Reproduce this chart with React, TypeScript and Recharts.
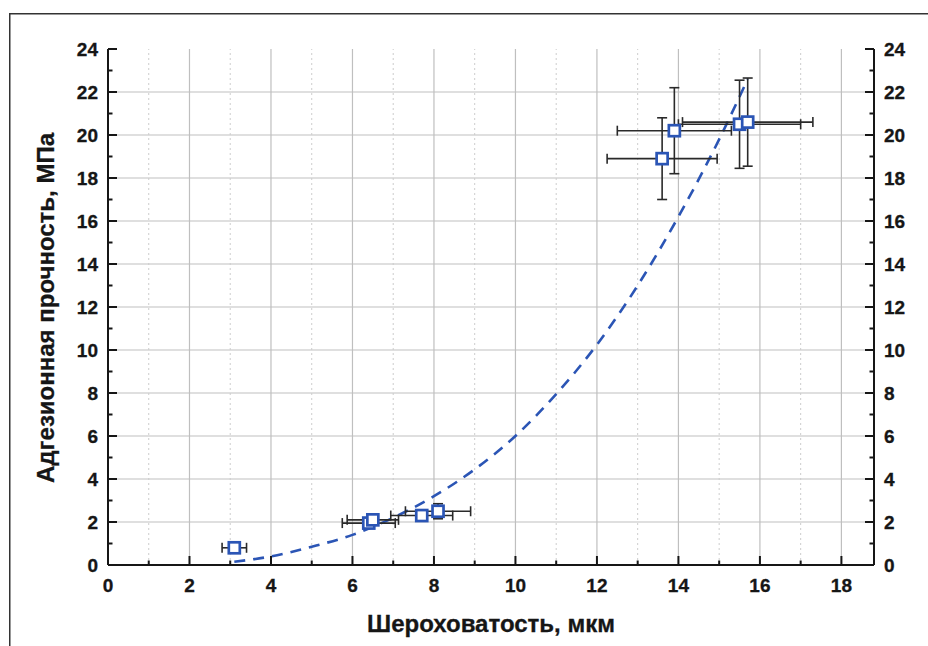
import * as React from "react";
import {
  CartesianGrid,
  ComposedChart,
  ErrorBar,
  Label,
  Line,
  ReferenceLine,
  Scatter,
  XAxis,
  YAxis,
} from "recharts";

// измерения: шероховатость (мкм) и адгезионная прочность (МПа)
const roughness = [3.1, 6.4, 6.5, 7.7, 8.1, 13.6, 13.9, 15.5, 15.7];
const roughnessErr = [0.3, 0.65, 0.63, 0.76, 0.8, 1.35, 1.4, 1.5, 1.6];
const strength = [0.8, 1.95, 2.1, 2.3, 2.5, 18.9, 20.2, 20.5, 20.6];
const strengthErr = [0.15, 0.15, 0.2, 0.2, 0.35, 1.9, 2.0, 2.05, 2.05];

// аппроксимирующая кривая
const fitX = [3.1, 4, 5, 6, 7, 8, 9, 10, 11, 12, 13, 14, 15, 15.7];
const fitY = [0.15, 0.4, 0.85, 1.4, 2.2, 3.2, 4.45, 6.0, 7.95, 10.25, 13.0, 16.2, 19.8, 22.6];

const xTicks = [0, 1, 2, 3, 4, 5, 6, 7, 8, 9, 10, 11, 12, 13, 14, 15, 16, 17, 18];
const yTicks = [0, 1, 2, 3, 4, 5, 6, 7, 8, 9, 10, 11, 12, 13, 14, 15, 16, 17, 18, 19, 20, 21, 22, 23, 24];
const xGridMajor = [2, 4, 6, 8, 10, 12, 14, 16, 18];
const xGridMinor = [1, 3, 5, 7, 9, 11, 13, 15, 17];
const yGrid = [2, 4, 6, 8, 10, 12, 14, 16, 18, 20, 22];

const points = roughness.map((x, i) => ({
  x,
  y: strength[i],
  ex: roughnessErr[i],
  ey: strengthErr[i],
}));
const fit = fitX.map((x, i) => ({ x, y: fitY[i] }));

const BLUE = "#2b55b5";
const INK = "#161616";
const FONT = "'Liberation Sans', Arial, sans-serif";
const TICK_FONT = {
  fontFamily: FONT,
  fontWeight: 700,
  fontSize: 19,
  fill: INK,
  stroke: INK,
  strokeWidth: 0.3,
};
const TITLE_FONT = {
  fontFamily: FONT,
  fontWeight: 700,
  fontSize: 24,
  fill: INK,
  stroke: INK,
  strokeWidth: 0.3,
};

const LeftTick = ({ x, y, payload }: any) => {
  const v = payload.value as number;
  const major = v % 2 === 0;
  const ax = x + 10;
  return (
    <g>
      <line x1={ax} x2={ax + (major ? 9 : 4.5)} y1={y} y2={y} stroke={INK} strokeWidth={2} />
      {major && (
        <text x={x} y={y} dy="0.36em" textAnchor="end" {...TICK_FONT}>
          {v}
        </text>
      )}
    </g>
  );
};

const RightTick = ({ x, y, payload }: any) => {
  const v = payload.value as number;
  const major = v % 2 === 0;
  const ax = x - 10;
  return (
    <g>
      <line x1={ax} x2={ax - (major ? 9 : 4.5)} y1={y} y2={y} stroke={INK} strokeWidth={2} />
      {major && (
        <text x={x} y={y} dy="0.36em" textAnchor="start" {...TICK_FONT}>
          {v}
        </text>
      )}
    </g>
  );
};

const BottomTick = ({ x, y, payload }: any) => {
  const v = payload.value as number;
  const major = v % 2 === 0;
  const ay = y - 14;
  return (
    <g>
      <line x1={x} x2={x} y1={ay} y2={ay - (major ? 9 : 4.5)} stroke={INK} strokeWidth={2} />
      {major && (
        <text x={x} y={y} dy="0.7em" textAnchor="middle" {...TICK_FONT}>
          {v}
        </text>
      )}
    </g>
  );
};

const Square = ({ cx, cy }: any) => (
  <rect x={cx - 5.5} y={cy - 5.5} width={11} height={11} fill="#fff" stroke={BLUE} strokeWidth={2.7} />
);

const XTitle = ({ viewBox }: any) => (
  <text x={viewBox.x + viewBox.width / 2} y={viewBox.y + 67} textAnchor="middle" {...TITLE_FONT}>
    Шероховатость, мкм
  </text>
);

const YTitle = ({ viewBox }: any) => {
  const tx = viewBox.x - 14.5;
  const ty = viewBox.y + viewBox.height / 2 + 1;
  return (
    <text x={tx} y={ty} transform={`rotate(-90, ${tx}, ${ty})`} textAnchor="middle" {...TITLE_FONT}>
      Адгезионная прочность, МПа
    </text>
  );
};

export default function App() {
  return (
    <div
      style={{
        position: "fixed",
        left: 0,
        top: 0,
        width: 928,
        height: 646,
        background: "#fff",
        overflow: "hidden",
      }}
    >
      <style>{"html, body { margin: 0; overflow: hidden; }"}</style>
      <svg width={928} height={646} style={{ position: "absolute", left: 0, top: 0 }}>
        <polyline points="9.75,646 9.75,13.75 928,13.75" fill="none" stroke="#333" strokeWidth={1.5} />
      </svg>
      <div style={{ position: "absolute", left: 0, top: 0 }}>
        <ComposedChart
          width={928}
          height={646}
          margin={{ top: 49, right: 14, bottom: 41, left: 68 }}
        >
          <CartesianGrid
            xAxisId="b"
            yAxisId="l"
            stroke="#bfbfbf"
            strokeWidth={1.2}
            horizontalValues={yGrid}
            verticalValues={xGridMajor}
          />
          {xGridMinor.map((v) => (
            <ReferenceLine
              key={v}
              x={v}
              xAxisId="b"
              yAxisId="l"
              stroke="#cdcdcd"
              strokeWidth={1}
              strokeDasharray="2 3"
            />
          ))}
          <XAxis
            xAxisId="b"
            type="number"
            dataKey="x"
            domain={[0, 18.8]}
            allowDataOverflow
            ticks={xTicks}
            interval={0}
            height={40}
            tickSize={0}
            tickMargin={14}
            axisLine={{ stroke: INK, strokeWidth: 2 }}
            tickLine={false}
            tick={<BottomTick />}
          >
            <Label content={<XTitle />} />
          </XAxis>
          <YAxis
            yAxisId="l"
            type="number"
            domain={[0, 24]}
            allowDataOverflow
            ticks={yTicks}
            interval={0}
            width={40}
            tickSize={0}
            tickMargin={10}
            axisLine={{ stroke: INK, strokeWidth: 2 }}
            tickLine={false}
            tick={<LeftTick />}
          >
            <Label content={<YTitle />} />
          </YAxis>
          <YAxis
            yAxisId="r"
            orientation="right"
            type="number"
            domain={[0, 24]}
            allowDataOverflow
            ticks={yTicks}
            interval={0}
            width={40}
            tickSize={0}
            tickMargin={10}
            axisLine={{ stroke: INK, strokeWidth: 2 }}
            tickLine={false}
            tick={<RightTick />}
          />
          <Line
            xAxisId="b"
            yAxisId="l"
            data={fit}
            dataKey="y"
            type="monotone"
            stroke={BLUE}
            strokeWidth={2.6}
            strokeDasharray="11 8"
            dot={false}
            activeDot={false}
            isAnimationActive={false}
          />
          <Scatter
            xAxisId="b"
            yAxisId="l"
            data={points}
            dataKey="y"
            shape={<Square />}
            isAnimationActive={false}
          >
            <ErrorBar dataKey="ex" direction="x" width={5} stroke="#2a2a2a" strokeWidth={1.6} />
            <ErrorBar dataKey="ey" direction="y" width={5} stroke="#2a2a2a" strokeWidth={1.6} />
          </Scatter>
        </ComposedChart>
      </div>
    </div>
  );
}
